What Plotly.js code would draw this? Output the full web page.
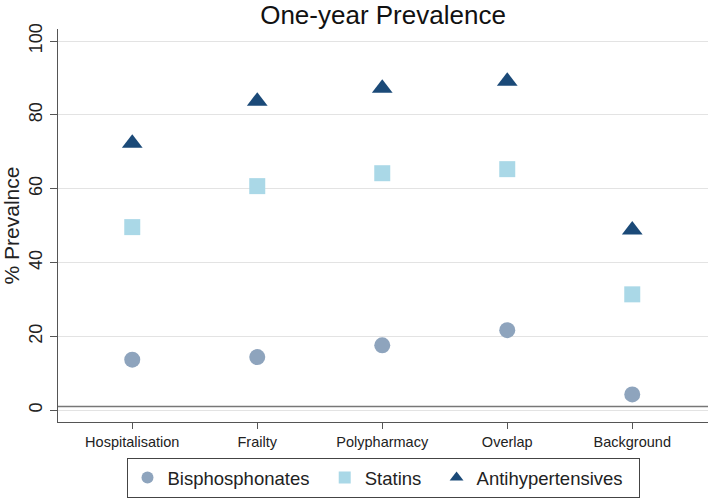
<!DOCTYPE html>
<html>
<head>
<meta charset="utf-8">
<script src="https://cdn.plot.ly/plotly-3.0.1.min.js"></script>
<style>html,body{margin:0;padding:0;background:#fff;}#chart{width:708px;height:498px;}</style>
</head>
<body>
<div id="chart"></div>
<script>
var categories = ["Hospitalisation", "Frailty", "Polypharmacy", "Overlap", "Background"];
var bisphosphonates = [13.7, 14.4, 17.6, 21.7, 4.3];
var statins = [49.6, 60.7, 64.2, 65.3, 31.4];
var antihypertensives = [72.3, 83.7, 87.2, 89.1, 48.8];
var yTicks = [0, 20, 40, 60, 80, 100];
var referenceLine = 1;
var seriesNames = ["Bisphosphonates", "Statins", "Antihypertensives"];

var xIdx = categories.map(function (c, i) { return i; });
var font = "Liberation Sans, Arial, sans-serif";
var pad = "\u00a0\u00a0";

var traces = [
  {x: xIdx, y: bisphosphonates, name: seriesNames[0] + pad, type: "scatter", mode: "markers",
   marker: {symbol: "circle", size: 16, color: "#8ea4bd"}},
  {x: xIdx, y: statins, name: seriesNames[1] + pad, type: "scatter", mode: "markers",
   marker: {symbol: "square", size: 16, color: "#aad8e7"}},
  {x: xIdx, y: antihypertensives, name: seriesNames[2] + pad, type: "scatter", mode: "markers",
   marker: {symbol: "triangle-up", size: 18, color: "#1b4a78"}}
];

var layout = {
  width: 708, height: 498,
  margin: {l: 58, r: 0, t: 29, b: 76},
  paper_bgcolor: "#fff", plot_bgcolor: "#fff",
  font: {family: font, color: "#222"},
  title: {text: "One-year Prevalence", font: {size: 26, color: "#111", family: font},
          x: 0.5, xref: "paper", xanchor: "center", y: 0.971, yanchor: "middle"},
  xaxis: {range: [-0.594, 4.606], tickvals: xIdx, ticktext: categories,
          showgrid: false, zeroline: false, showline: true, linecolor: "#555", linewidth: 1.2,
          ticks: "outside", ticklen: 6, tickcolor: "#555", tickfont: {size: 14.5, color: "#222"},
          fixedrange: true},
  yaxis: {range: [-3.17, 103.25], tickvals: yTicks, ticktext: yTicks.map(String),
          tickangle: -90, showgrid: true, gridcolor: "#e3e3e3", gridwidth: 1, zeroline: false,
          showline: true, linecolor: "#555", linewidth: 1.5,
          ticks: "outside", ticklen: 7, tickcolor: "#555", tickfont: {size: 18, color: "#222"},
          title: {text: "% Prevalnce", font: {size: 21, color: "#222"}, standoff: 6}},
  shapes: [{type: "line", xref: "paper", x0: 0, x1: 1, yref: "y", y0: referenceLine, y1: referenceLine,
            line: {color: "#777", width: 1.5}}],
  showlegend: true,
  legend: {orientation: "h", x: 0.5, xanchor: "center", y: -0.143, yanchor: "middle",
           font: {size: 18.5, color: "#222"}, bordercolor: "#444", borderwidth: 1, bgcolor: "#fff",
           itemsizing: "constant"}
};

Plotly.newPlot("chart", traces, layout, {displayModeBar: false, staticPlot: true});
</script>
</body>
</html>
